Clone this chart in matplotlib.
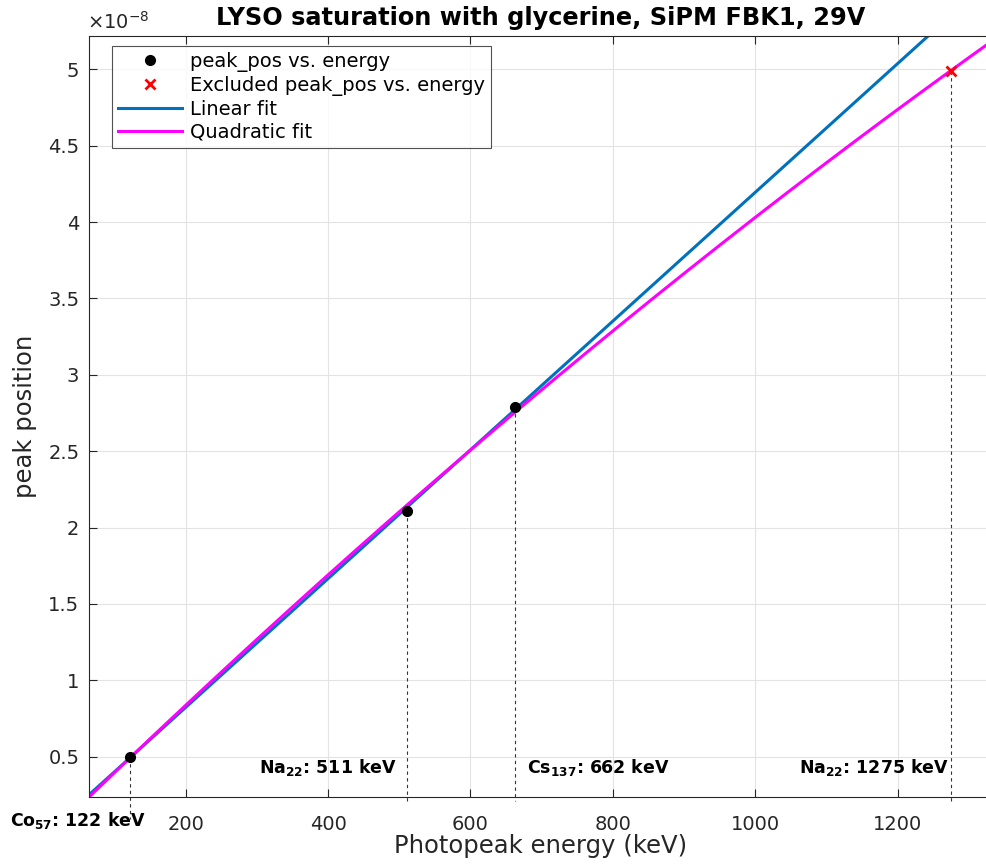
import numpy as np
import matplotlib
matplotlib.use('Agg')
import matplotlib.pyplot as plt
from matplotlib.ticker import FuncFormatter

# measured photopeaks (keV) and peak positions
energy = [122, 511, 662]
peak_pos = [0.50e-8, 2.11e-8, 2.787e-8]
excl_energy = [1275]
excl_peak_pos = [4.99e-8]
source_labels = [r'Co$_\mathbf{57}$: 122 keV', r'Na$_\mathbf{22}$: 511 keV',
                 r'Cs$_\mathbf{137}$: 662 keV', r'Na$_\mathbf{22}$: 1275 keV']

all_energy = energy + excl_energy
all_pos = peak_pos + excl_peak_pos

# fits: linear on included points, quadratic on all points
lin = np.polyfit(energy, peak_pos, 1)
quad = np.polyfit(all_energy, all_pos, 2)

xmin, xmax = 64.4, 1332.6
ymin, ymax = 0.238e-8, 5.216e-8
xx = np.linspace(xmin, xmax, 300)

fig = plt.figure(figsize=(9.87, 8.66), dpi=100)
ax = fig.add_axes([0.0902, 0.080, 0.915, 0.878])

tc = '#262626'
ax.plot(energy, peak_pos, 'o', color='black', markersize=7, label='peak_pos vs. energy', zorder=5)
ax.plot(excl_energy, excl_peak_pos, 'x', color='red', markersize=7, mew=2,
        label='Excluded peak_pos vs. energy', zorder=5)
ax.plot(xx, np.polyval(lin, xx), color='#0072BD', linewidth=2.2, label='Linear fit')
ax.plot(xx, np.polyval(quad, xx), color='#FF00FF', linewidth=2.2, label='Quadratic fit')

# dashed drop lines and source labels
drop_to = [0.095e-8, 0.21e-8, 0.21e-8, 0.21e-8]
for e, p, d in zip(all_energy, all_pos, drop_to):
    ax.plot([e, e], [p, d], linestyle=(0, (3, 3)), color='#333333', linewidth=0.8,
            clip_on=False, zorder=4)

lbl_kw = dict(fontsize=12.5, fontweight='bold', color='black', va='center')
ax.text(all_energy[0] + 22, 0.08e-8, source_labels[0], ha='right', clip_on=False, **lbl_kw)
ax.text(all_energy[1] - 14, 0.43e-8, source_labels[1], ha='right', **lbl_kw)
ax.text(all_energy[2] + 17, 0.43e-8, source_labels[2], ha='left', **lbl_kw)
ax.text(all_energy[3] - 3, 0.43e-8, source_labels[3], ha='right', **lbl_kw)

ax.set_xlim(xmin, xmax)
ax.set_ylim(ymin, ymax)
ax.set_xticks([200, 400, 600, 800, 1000, 1200])
ax.set_yticks(np.arange(0.5, 5.01, 0.5) * 1e-8)
ax.yaxis.set_major_formatter(FuncFormatter(lambda v, p: '%g' % round(v * 1e8, 3)))
ax.text(-0.002, 1.005, r'$\times$10$^{\mathregular{-8}}$', transform=ax.transAxes,
        fontsize=14, color=tc, ha='left', va='bottom')

ax.grid(True, color='#e3e3e3', linewidth=0.8)
ax.set_axisbelow(True)
ax.tick_params(direction='in', labelsize=14, colors=tc, length=6, top=True)
ax.tick_params(axis='x', pad=13)
ax.tick_params(axis='y', pad=7)
for s in ax.spines.values():
    s.set_color(tc)
    s.set_linewidth(0.8)

ax.set_xlabel('Photopeak energy (keV)', fontsize=17.5, color=tc, labelpad=0)
ax.set_ylabel('peak position', fontsize=17.5, color=tc, labelpad=8)
ax.set_title('LYSO saturation with glycerine, SiPM FBK1, 29V', fontsize=17.3,
             fontweight='bold', color='black', pad=8)

leg = ax.legend(loc='upper left', bbox_to_anchor=(0.0255, 0.987), borderaxespad=0,
                fontsize=14, frameon=True, fancybox=False, edgecolor=tc,
                handlelength=3.3, handletextpad=0.4, labelspacing=0.2, borderpad=0.3)
leg.get_frame().set_linewidth(0.8)

fig.savefig('out.png', dpi=100)
